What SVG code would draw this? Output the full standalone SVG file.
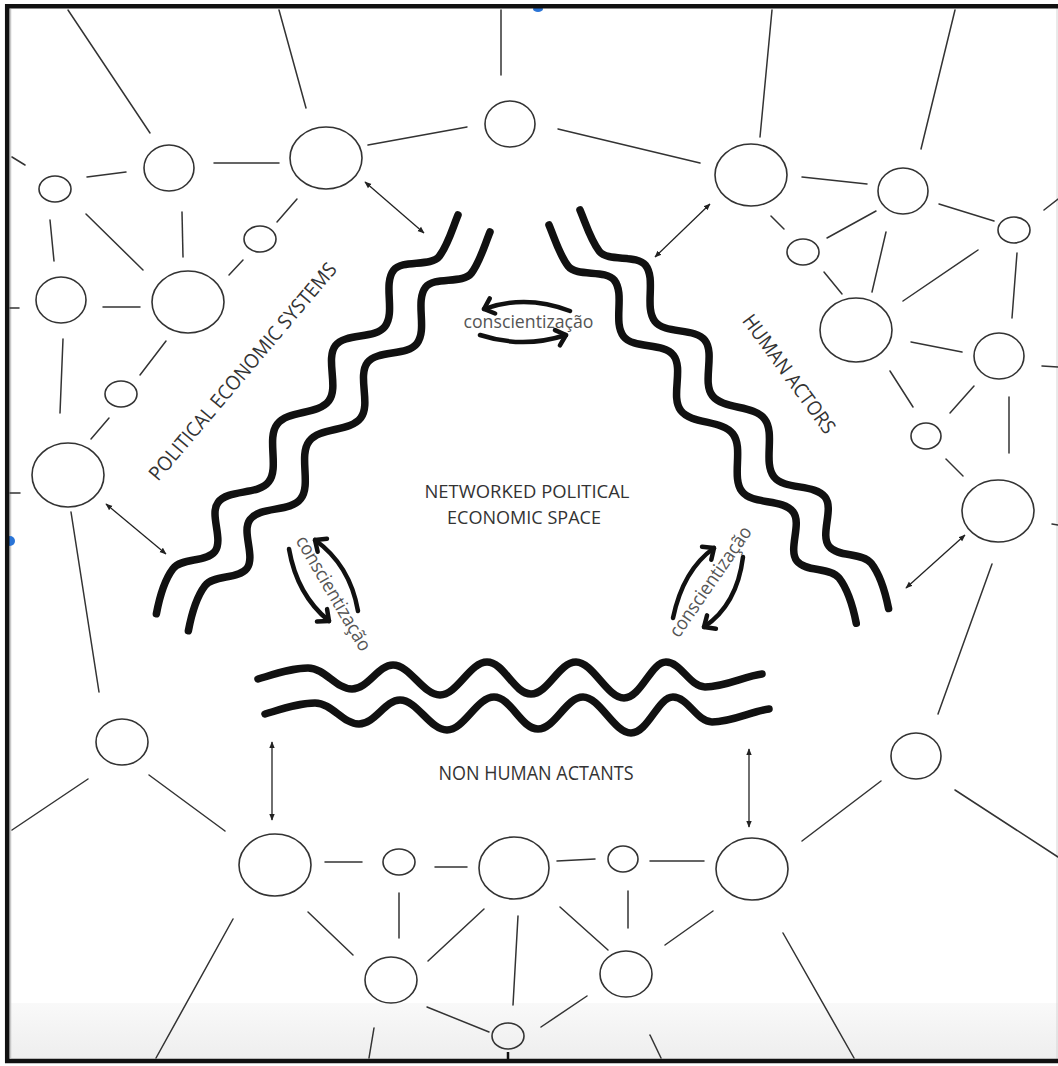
<svg xmlns="http://www.w3.org/2000/svg" width="1058" height="1066" viewBox="0 0 1058 1066">
<style>
.nd{fill:none;stroke:#333;stroke-width:1.6}
.ln{stroke:#333;stroke-width:1.5;stroke-linecap:round;fill:none}
.ar{stroke:#222;stroke-width:1.3;fill:none;marker-start:url(#sh);marker-end:url(#sh)}
.wave{fill:none;stroke:#111;stroke-width:7.5;stroke-linecap:round;stroke-linejoin:round}
.ca{fill:none;stroke:#111;stroke-width:4.5;stroke-linecap:round;marker-end:url(#ch)}
.lbl{font-family:"Open Sans","Noto Sans","Liberation Sans",sans-serif;font-size:20px;fill:#333;text-anchor:middle}
.mid{font-size:18.5px}
.cz{font-family:"Open Sans","Noto Sans","Liberation Sans",sans-serif;font-size:19px;fill:#555;text-anchor:middle}
</style>
<defs>
<linearGradient id="band" x1="0" y1="0" x2="0" y2="1"><stop offset="0" stop-color="#f9f9f9"/><stop offset="1" stop-color="#eeeeee"/></linearGradient>
<marker id="sh" viewBox="0 0 10 10" refX="9" refY="5" markerWidth="7" markerHeight="7" markerUnits="userSpaceOnUse" orient="auto-start-reverse"><path d="M0,1 L10,5 L0,9 z" fill="#222"/></marker>
<marker id="ch" viewBox="-12 -10 14 20" refX="0" refY="0" markerWidth="14" markerHeight="20" markerUnits="userSpaceOnUse" orient="auto" overflow="visible"><path d="M-9,-8 L0,0 L-9,8" fill="none" stroke="#111" stroke-width="4.5" stroke-linecap="round" stroke-linejoin="round"/></marker>
<path id="dw" d="M0,0 C15,-4 30,-10 44,-10 C58,-10 69,18 83,18 C101,18 115,-9 133,-9 C149,-9 162,19 178,19 C195,19 209,-9 226,-9 C244,-9 258,18 276,18 C294,18 309,-10 327,-10 C344,-10 357,18 374,18 C389,18 400,-9 415,-9 C429,-9 440,14 454,14 C470,14 488,6 500,0"/>
<path id="bw" d="M258,679 C275,674 292,668 308,668 C325,668 336,689 352,689 C368,689 378,665 393,665 C410,665 423,695 440,695 C457,695 470,662 487,662 C504,662 514,694 531,694 C548,694 559,662 576,662 C593,662 607,698 624,698 C641,698 651,662 666,662 C681,662 690,687 705,687 C725,687 745,676 762,674"/>
</defs>

<g id="background">
<rect x="0" y="0" width="1058" height="1066" fill="#ffffff"/>
<rect x="9" y="1003" width="1049" height="56" fill="url(#band)"/>
<line x1="1057" y1="8" x2="1057" y2="1059" stroke="#d4d4d4" stroke-width="1"/>
<line x1="10.5" y1="9" x2="10.5" y2="1058" stroke="#c8c8c8" stroke-width="1.5"/>
<ellipse cx="538" cy="9" rx="5" ry="3" fill="#2a74d6"/>
<ellipse cx="10" cy="541" rx="5" ry="5" fill="#2a74d6"/>
<path d="M1058,6.2 H7.2 V1061 H1058" fill="none" stroke="#111" stroke-width="4.5"/>
</g>

<g id="connectors">
<line class="ln" x1="68" y1="10" x2="150" y2="133"/>
<line class="ln" x1="279" y1="10" x2="306" y2="108"/>
<line class="ln" x1="501" y1="10" x2="501" y2="75"/>
<line class="ln" x1="12" y1="157" x2="25" y2="165"/>
<line class="ln" x1="87" y1="177" x2="126" y2="172"/>
<line class="ln" x1="214" y1="163" x2="279" y2="163"/>
<line class="ln" x1="368" y1="145" x2="467" y2="127"/>
<line class="ln" x1="50" y1="220" x2="54" y2="261"/>
<line class="ln" x1="86" y1="214" x2="143" y2="270"/>
<line class="ln" x1="182" y1="212" x2="183" y2="257"/>
<line class="ln" x1="277" y1="222" x2="297" y2="199"/>
<line class="ln" x1="229" y1="275" x2="243" y2="260"/>
<line class="ln" x1="10" y1="308" x2="19" y2="308"/>
<line class="ln" x1="103" y1="307" x2="140" y2="307"/>
<line class="ln" x1="63" y1="339" x2="60" y2="413"/>
<line class="ln" x1="166" y1="341" x2="140" y2="375"/>
<line class="ln" x1="109" y1="418" x2="91" y2="439"/>
<line class="ln" x1="10" y1="493" x2="20" y2="493"/>
<line class="ln" x1="772" y1="10" x2="760" y2="137"/>
<line class="ln" x1="955" y1="10" x2="921" y2="149"/>
<line class="ln" x1="558" y1="129" x2="700" y2="163"/>
<line class="ln" x1="802" y1="177" x2="867" y2="184"/>
<line class="ln" x1="939" y1="204" x2="994" y2="221"/>
<line class="ln" x1="1044" y1="210" x2="1058" y2="199"/>
<line class="ln" x1="771" y1="216" x2="784" y2="229"/>
<line class="ln" x1="827" y1="238" x2="876" y2="211"/>
<line class="ln" x1="886" y1="232" x2="872" y2="292"/>
<line class="ln" x1="978" y1="250" x2="903" y2="301"/>
<line class="ln" x1="1017" y1="253" x2="1012" y2="318"/>
<line class="ln" x1="824" y1="272" x2="842" y2="294"/>
<line class="ln" x1="911" y1="342" x2="962" y2="352"/>
<line class="ln" x1="1042" y1="366" x2="1058" y2="367"/>
<line class="ln" x1="890" y1="371" x2="913" y2="407"/>
<line class="ln" x1="974" y1="386" x2="950" y2="413"/>
<line class="ln" x1="1009" y1="397" x2="1009" y2="453"/>
<line class="ln" x1="946" y1="459" x2="963" y2="476"/>
<line class="ln" x1="1052" y1="524" x2="1058" y2="525"/>
<line class="ln" x1="992" y1="564" x2="938" y2="714"/>
<line class="ln" x1="71" y1="512" x2="99" y2="692"/>
<line class="ln" x1="88" y1="779" x2="12" y2="830"/>
<line class="ln" x1="149" y1="775" x2="225" y2="831"/>
<line class="ln" x1="325" y1="862" x2="362" y2="862"/>
<line class="ln" x1="435" y1="867" x2="467" y2="867"/>
<line class="ln" x1="399" y1="893" x2="399" y2="938"/>
<line class="ln" x1="308" y1="912" x2="353" y2="955"/>
<line class="ln" x1="484" y1="909" x2="428" y2="961"/>
<line class="ln" x1="518" y1="916" x2="513" y2="1005"/>
<line class="ln" x1="233" y1="919" x2="156" y2="1058"/>
<line class="ln" x1="427" y1="1007" x2="489" y2="1032"/>
<line class="ln" x1="374" y1="1028" x2="369" y2="1058"/>
<line x1="508" y1="1052" x2="508" y2="1059" stroke="#111" stroke-width="2.5"/>
<line class="ln" x1="557" y1="861" x2="595" y2="859"/>
<line class="ln" x1="650" y1="861" x2="704" y2="861"/>
<line class="ln" x1="628" y1="891" x2="628" y2="928"/>
<line class="ln" x1="560" y1="907" x2="608" y2="950"/>
<line class="ln" x1="713" y1="911" x2="665" y2="945"/>
<line class="ln" x1="587" y1="996" x2="541" y2="1027"/>
<line class="ln" x1="650" y1="1035" x2="661" y2="1058"/>
<line class="ln" x1="783" y1="933" x2="854" y2="1058"/>
<line class="ln" x1="802" y1="841" x2="881" y2="781"/>
<line class="ln" x1="955" y1="790" x2="1058" y2="857"/>
<line class="ar" x1="365" y1="182" x2="424" y2="233"/>
<line class="ar" x1="710" y1="204" x2="655" y2="257"/>
<line class="ar" x1="106" y1="504" x2="166" y2="554"/>
<line class="ar" x1="965" y1="535" x2="906" y2="588"/>
<line class="ar" x1="272" y1="742" x2="272" y2="820"/>
<line class="ar" x1="749" y1="749" x2="749" y2="827"/>
<path class="ca" d="M570,311 Q526,294 484,309"/>
<path class="ca" d="M480,335 Q523,349 566,335"/>
<path class="ca" d="M358,611 Q350,565 315,540"/>
<path class="ca" d="M289,549 Q297,595 329,621"/>
<path class="ca" d="M673,618 Q683,570 714,548"/>
<path class="ca" d="M743,557 Q737,605 704,627"/>
</g>

<g id="boundaries">
<use href="#dw" class="wave" transform="translate(458,215) rotate(127.1)"/>
<use href="#dw" class="wave" transform="translate(490,232) rotate(127.1)"/>
<use href="#dw" class="wave" transform="translate(580,210) rotate(52.25) scale(1.008,-1)"/>
<use href="#dw" class="wave" transform="translate(549,225) rotate(52.35) scale(1.006,-1)"/>
<use href="#bw" class="wave"/>
<use href="#bw" class="wave" transform="translate(7,35)"/>
</g>

<g id="n1"><ellipse class="nd" cx="169" cy="168" rx="25" ry="23"/></g>
<g id="n2"><ellipse class="nd" cx="55" cy="189" rx="16" ry="13"/></g>
<g id="n3"><ellipse class="nd" cx="326" cy="158" rx="36" ry="31"/></g>
<g id="n4"><ellipse class="nd" cx="510" cy="124" rx="25" ry="23"/></g>
<g id="n5"><ellipse class="nd" cx="260" cy="239" rx="16" ry="13"/></g>
<g id="n6"><ellipse class="nd" cx="61" cy="300" rx="25" ry="23"/></g>
<g id="n7"><ellipse class="nd" cx="188" cy="302" rx="36" ry="31"/></g>
<g id="n8"><ellipse class="nd" cx="121" cy="394" rx="16" ry="13"/></g>
<g id="n9"><ellipse class="nd" cx="68" cy="475" rx="36" ry="32"/></g>
<g id="n10"><ellipse class="nd" cx="751" cy="175" rx="36" ry="31"/></g>
<g id="n11"><ellipse class="nd" cx="903" cy="191" rx="25" ry="23"/></g>
<g id="n12"><ellipse class="nd" cx="1014" cy="230" rx="16" ry="13"/></g>
<g id="n13"><ellipse class="nd" cx="803" cy="252" rx="16" ry="13"/></g>
<g id="n14"><ellipse class="nd" cx="856" cy="330" rx="36" ry="32"/></g>
<g id="n15"><ellipse class="nd" cx="999" cy="356" rx="25" ry="23"/></g>
<g id="n16"><ellipse class="nd" cx="926" cy="436" rx="15" ry="13"/></g>
<g id="n17"><ellipse class="nd" cx="998" cy="511" rx="36" ry="31"/></g>
<g id="n18"><ellipse class="nd" cx="122" cy="742" rx="26" ry="23"/></g>
<g id="n19"><ellipse class="nd" cx="275" cy="865" rx="36" ry="31"/></g>
<g id="n20"><ellipse class="nd" cx="399" cy="862" rx="16" ry="13"/></g>
<g id="n21"><ellipse class="nd" cx="514" cy="868" rx="35" ry="31"/></g>
<g id="n22"><ellipse class="nd" cx="391" cy="980" rx="26" ry="23"/></g>
<g id="n23"><ellipse class="nd" cx="508" cy="1036" rx="16" ry="13"/></g>
<g id="n24"><ellipse class="nd" cx="623" cy="859" rx="15" ry="13"/></g>
<g id="n25"><ellipse class="nd" cx="752" cy="869" rx="36" ry="31"/></g>
<g id="n26"><ellipse class="nd" cx="626" cy="974" rx="26" ry="23"/></g>
<g id="n27"><ellipse class="nd" cx="916" cy="756" rx="25" ry="23"/></g>

<g id="labels">
<text class="lbl mid" x="527" y="498" textLength="205" lengthAdjust="spacingAndGlyphs">NETWORKED POLITICAL</text>
<text class="lbl mid" x="524" y="524" textLength="154" lengthAdjust="spacingAndGlyphs">ECONOMIC SPACE</text>
<text class="lbl" x="536" y="780" textLength="195" lengthAdjust="spacingAndGlyphs">NON HUMAN ACTANTS</text>
<text class="lbl" x="248" y="376" transform="rotate(-49.7 248 376)" textLength="278" lengthAdjust="spacingAndGlyphs">POLITICAL ECONOMIC SYSTEMS</text>
<text class="lbl" x="783.5" y="378" transform="rotate(53.8 783.5 378)" textLength="142" lengthAdjust="spacingAndGlyphs">HUMAN ACTORS</text>
<text class="cz" x="528.5" y="328" textLength="130" lengthAdjust="spacingAndGlyphs">conscientização</text>
<text class="cz" x="328" y="596.5" transform="rotate(59.7 328 596.5)" textLength="130" lengthAdjust="spacingAndGlyphs">conscientização</text>
<text class="cz" x="715.6" y="585.3" transform="rotate(-55.4 715.6 585.3)" textLength="130" lengthAdjust="spacingAndGlyphs">conscientização</text>
</g>
</svg>
